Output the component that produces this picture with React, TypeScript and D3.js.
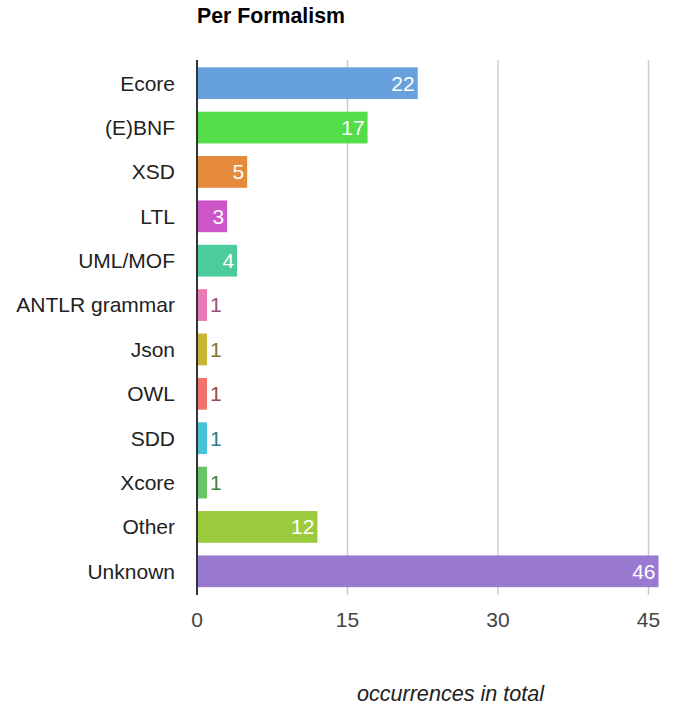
import React from "react";
import * as d3 from "d3";

const categories = ["Ecore", "(E)BNF", "XSD", "LTL", "UML/MOF", "ANTLR grammar", "Json", "OWL", "SDD", "Xcore", "Other", "Unknown"];
const values = [22, 17, 5, 3, 4, 1, 1, 1, 1, 1, 12, 46];
const colors = ["#66a1de", "#53dd4a", "#e5893a", "#cc55c8", "#4bcc9a", "#e87ab5", "#c9b535", "#f0746b", "#48c2d4", "#68c466", "#9bca3c", "#9a7ad1"];
const ticks = [0, 15, 30, 45];
const title = "Per Formalism";
const axisTitle = "occurrences in total";

export default function App() {
  const W = 673, H = 707;
  const x = d3.scaleLinear().domain([0, 45]).range([197, 648.5]);
  const y = d3.scaleBand<string>().domain(categories).range([61, 593.5]).paddingInner(0.285).paddingOuter(0.1425);
  const font = "'Liberation Sans', Arial, sans-serif";
  return (
    <svg width={W} height={H} style={{ position: "absolute", left: 0, top: 0 }} fontFamily={font}>
      <rect width={W} height={H} fill="#fff" />
      <text x={197} y={23} fontSize={21.3} fontWeight="bold" fill="#000">{title}</text>
      {ticks.filter(t => t > 0).map(t => (
        <line key={t} x1={x(t)} x2={x(t)} y1={60} y2={595} stroke="#cccccc" strokeWidth={1.5} />
      ))}
      {categories.map((c, i) => {
        const v = values[i];
        const x1 = x(v);
        const yy = y(c)!;
        const bw = y.bandwidth();
        const inside = v >= 3;
        const dark = d3.color(colors[i])!.darker(1.2).formatHex();
        return (
          <g key={c}>
            <rect x={x(0)} y={yy} width={x1 - x(0)} height={bw} fill={colors[i]} />
            <text x={175} y={yy + bw / 2} dy="0.35em" textAnchor="end" fontSize={21} fill="#222">{c}</text>
            <text x={inside ? x1 - 3 : x1 + 3} y={yy + bw / 2} dy="0.35em" textAnchor={inside ? "end" : "start"} fontSize={21} fill={inside ? "#fff" : dark}>{v}</text>
          </g>
        );
      })}
      <line x1={x(0)} x2={x(0)} y1={60} y2={595} stroke="#333" strokeWidth={2} />
      {ticks.map(t => (
        <text key={t} x={x(t)} y={627} textAnchor="middle" fontSize={21} fill="#444">{t}</text>
      ))}
      <text x={450.5} y={701} textAnchor="middle" fontSize={21.6} fontStyle="italic" fill="#222">{axisTitle}</text>
    </svg>
  );
}
